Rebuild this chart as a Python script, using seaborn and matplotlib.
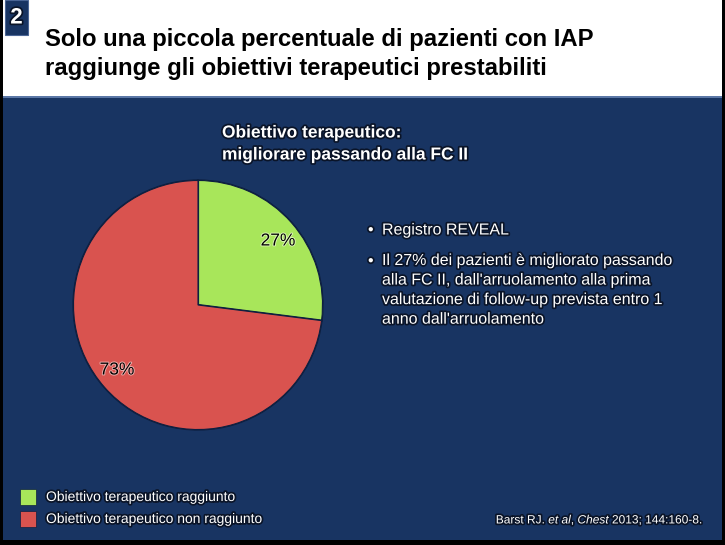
import matplotlib
matplotlib.use("Agg")
import matplotlib.pyplot as plt
import matplotlib.patheffects as pe
from matplotlib.patches import Rectangle
import seaborn as sns

# ---- data ----
categories = ["Obiettivo terapeutico raggiunto", "Obiettivo terapeutico non raggiunto"]
values = [27, 73]
pct_labels = ["27%", "73%"]
colors = ["#a8e65a", "#d9534f"]
title_lines = ["Solo una piccola percentuale di pazienti con IAP",
               "raggiunge gli obiettivi terapeutici prestabiliti"]
subtitle_lines = ["Obiettivo terapeutico:", "migliorare passando alla FC II"]
bullets = ["Registro REVEAL",
           "Il 27% dei pazienti è migliorato passando\nalla FC II, dall'arruolamento alla prima\nvalutazione di follow-up prevista entro 1\nanno dall'arruolamento"]
slide_number = "2"

sns.set_style("white")
plt.rcParams['font.family'] = ['Liberation Sans', 'DejaVu Sans']
plt.rcParams['mathtext.fontset'] = 'custom'
plt.rcParams['mathtext.rm'] = 'Liberation Sans'
plt.rcParams['mathtext.it'] = 'Liberation Sans:italic'

W, H = 725, 545
NAVY = "#183462"
fig = plt.figure(figsize=(W / 100, H / 100), dpi=100, facecolor="black")

def px(x, y):
    return x / W, 1 - y / H

def rect(x0, y0, x1, y1, color, z=0, ec="none", lw=0):
    fx, fy = x0 / W, 1 - y1 / H
    fig.patches.append(Rectangle((fx, fy), (x1 - x0) / W, (y1 - y0) / H,
                                 transform=fig.transFigure, facecolor=color,
                                 edgecolor=ec, linewidth=lw, zorder=z))

# background panels
rect(3, 0, 722, 96, "white", z=-3)
rect(3, 96, 722, 98, "#5b77a6", z=-3)
rect(3, 98, 722, 540, NAVY, z=-3)
# slide number box
rect(5, 0, 28, 35, NAVY, z=-2, ec="#4a6595", lw=0.8)

shadow = [pe.withStroke(linewidth=2.5, foreground="#0a1428")]

fig.text(*px(16.5, 18), slide_number, color="white", fontsize=16, fontweight="bold",
         ha="center", va="center", path_effects=shadow)

for i, line in enumerate(title_lines):
    fig.text(*px(45, 39 + i * 30), line, color="black", fontsize=17.2,
             fontweight="bold", ha="left", va="center")

for i, line in enumerate(subtitle_lines):
    fig.text(*px(222, 133 + i * 22), line, color="white", fontsize=12.5,
             fontweight="bold", ha="left", va="center", path_effects=shadow)

# bullets
BFS = 11.5
fig.text(*px(368, 230), "•", color="white", fontsize=BFS, ha="left", va="center",
         path_effects=shadow)
fig.text(*px(382, 230), bullets[0], color="white", fontsize=BFS, ha="left",
         va="center", path_effects=shadow)
fig.text(*px(368, 261), "•", color="white", fontsize=BFS, ha="left", va="center",
         path_effects=shadow)
fig.text(*px(382, 253), bullets[1], color="white", fontsize=BFS, ha="left",
         va="top", linespacing=1.38, path_effects=shadow)

# pie
cx, cy, r = 198, 305, 127
ax = fig.add_axes([(cx - r) / W, (H - cy - r) / H, 2 * r / W, 2 * r / H])
ax.set_zorder(2)
ax.set_facecolor("none")
ax.patch.set_alpha(0)
wedges, _ = ax.pie(values, colors=colors, startangle=90, counterclock=False,
                   radius=1.0,
                   wedgeprops=dict(edgecolor="#0d1f40", linewidth=0.8))
for w_ in wedges:
    w_.set_path_effects([pe.withStroke(linewidth=1.6, foreground="#0d1f40")])
ax.set_xlim(-1.02, 1.02)
ax.set_ylim(-1.02, 1.02)
ax.set_aspect("equal")
ax.axis("off")

# percentage labels
label_pos = [(278, 241), (117, 370)]
glows = ["#dff7b8", "#f0b3b1"]
for lab, (lx, ly), g in zip(pct_labels, label_pos, glows):
    fig.text(*px(lx, ly), lab, color="black", fontsize=12.5, ha="center",
             va="center", zorder=5,
             path_effects=[pe.withStroke(linewidth=1.3, foreground=g)])

# legend
for i, (lab, col) in enumerate(zip(categories, colors)):
    y0 = 489 + i * 22
    rect(20, y0, 36, y0 + 16, col, z=-1, ec="#0d1f40", lw=0.5)
    fig.text(*px(46, y0 + 8), lab, color="white", fontsize=10,
             ha="left", va="center", path_effects=shadow)

# citation
fig.text(*px(702, 520), r"Barst RJ. $\it{et\ al}$, $\it{Chest}$ 2013; 144:160-8.",
         color="white", fontsize=8.6,
         ha="right", va="center", path_effects=shadow)

fig.savefig("out.png", dpi=100, facecolor="black")
